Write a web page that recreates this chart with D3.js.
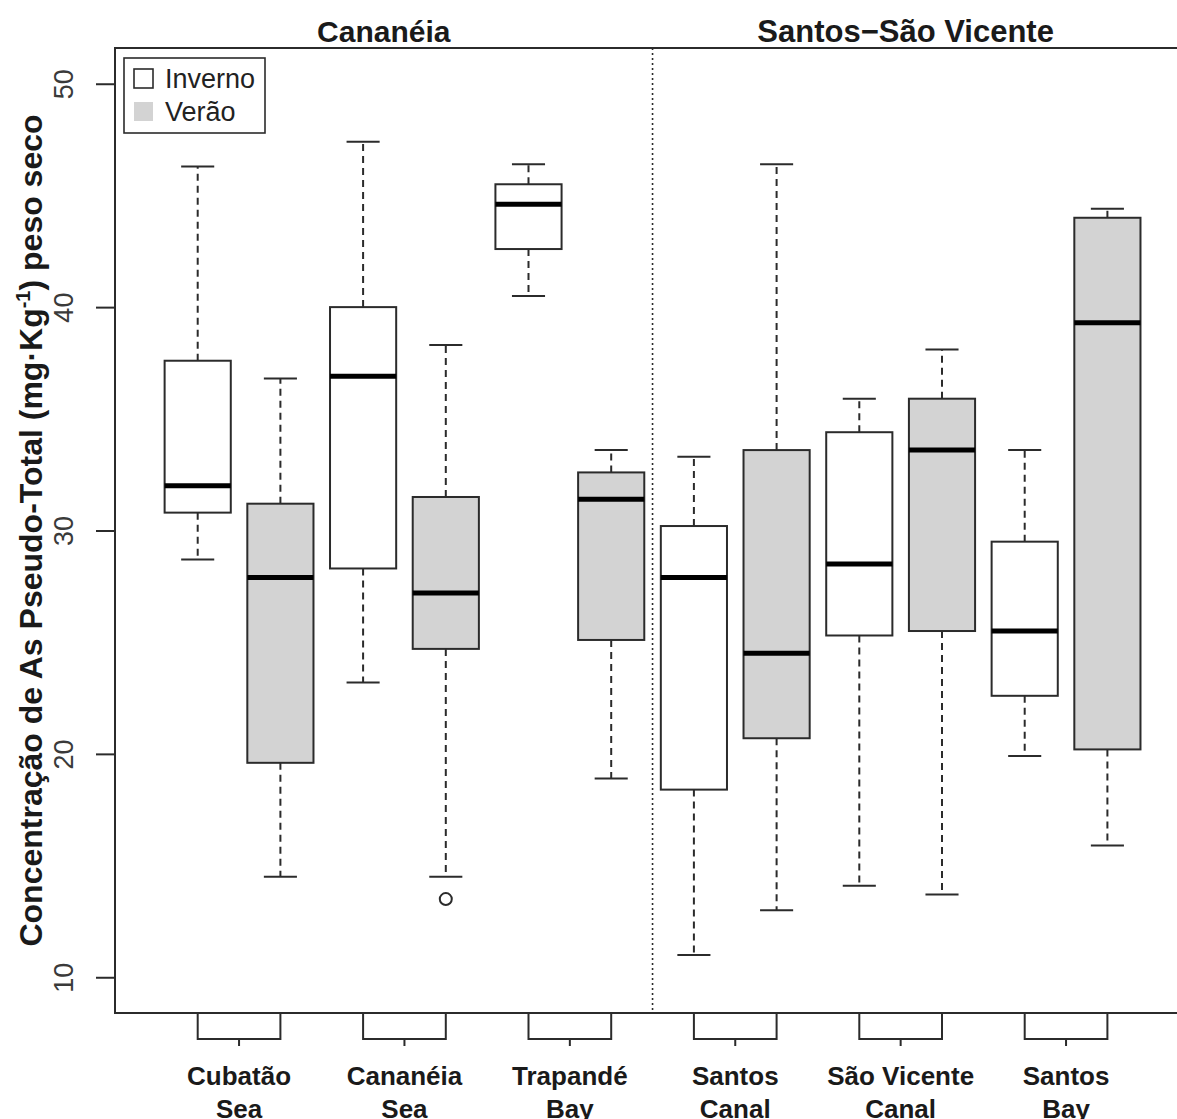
<!DOCTYPE html>
<html>
<head>
<meta charset="utf-8">
<script src="https://cdn.jsdelivr.net/npm/d3@7"></script>
<style>
  html, body { margin: 0; padding: 0; background: #fff; }
  svg { display: block; font-family: "Liberation Sans", Arial, sans-serif; }
</style>
</head>
<body>
<div id="chart"></div>
<script>
// Sites (two-line labels) and seasons
const siteLines = [
  ['Cubatão', 'Sea'],
  ['Cananéia', 'Sea'],
  ['Trapandé', 'Bay'],
  ['Santos', 'Canal'],
  ['São Vicente', 'Canal'],
  ['Santos', 'Bay']
];
const seasons = ['Inverno', 'Verão'];
const regions = ['Cananéia', 'Santos\u2212São Vicente'];
const regionCenters = [3.25, 9.56];
const yTicks = [10, 20, 30, 40, 50];

// Box stats, one per site x season (Inverno, Verão)
const lowerWhisker = [28.7, 14.5, 23.2, 14.5, 40.5, 18.9, 11.0, 13.0, 14.1, 13.7, 19.9, 15.9];
const q1 = [30.8, 19.6, 28.3, 24.7, 42.6, 25.1, 18.4, 20.7, 25.3, 25.5, 22.6, 20.2];
const median = [32.0, 27.9, 36.9, 27.2, 44.6, 31.4, 27.9, 24.5, 28.5, 33.6, 25.5, 39.3];
const q3 = [37.6, 31.2, 40.0, 31.5, 45.5, 32.6, 30.2, 33.6, 34.4, 35.9, 29.5, 44.0];
const upperWhisker = [46.3, 36.8, 47.4, 38.3, 46.4, 33.6, 33.3, 46.4, 35.9, 38.1, 33.6, 44.4];
const outliers = [[], [], [], [13.5], [], [], [], [], [], [], [], []];

const seasonFill = { 'Inverno': '#ffffff', 'Verão': '#d3d3d3' };

function renderChart() {
  const width = 1177, height = 1119;
  const plot = { left: 115, top: 48, bottom: 1013 };
  const ink = '#2b2b2b';

  const svg = d3.select('#chart').append('svg')
    .attr('width', width)
    .attr('height', height);

  svg.append('rect').attr('width', width).attr('height', height).attr('fill', '#fff');

  const x = d3.scaleLinear().domain([0, 13]).range([plot.left, plot.left + 13 * 82.7]);
  const y = d3.scaleLinear().domain([8.4, 51.6]).range([plot.bottom, plot.top]);

  const boxes = lowerWhisker.map((lw, i) => ({
    pos: i + 1,
    season: seasons[i % 2],
    lw, q1: q1[i], med: median[i], q3: q3[i], uw: upperWhisker[i],
    out: outliers[i]
  }));

  const half = x(0.4) - x(0);
  const staple = x(0.2) - x(0);

  const g = svg.append('g').selectAll('g.box')
    .data(boxes)
    .join('g')
    .attr('class', 'box');

  // whiskers
  g.append('line')
    .attr('x1', d => x(d.pos)).attr('x2', d => x(d.pos))
    .attr('y1', d => y(d.q3)).attr('y2', d => y(d.uw))
    .attr('stroke', ink).attr('stroke-width', 2).attr('stroke-dasharray', '7,5');
  g.append('line')
    .attr('x1', d => x(d.pos)).attr('x2', d => x(d.pos))
    .attr('y1', d => y(d.q1)).attr('y2', d => y(d.lw))
    .attr('stroke', ink).attr('stroke-width', 2).attr('stroke-dasharray', '7,5');
  // staples
  ['uw', 'lw'].forEach(k => {
    g.append('line')
      .attr('x1', d => x(d.pos) - staple).attr('x2', d => x(d.pos) + staple)
      .attr('y1', d => y(d[k])).attr('y2', d => y(d[k]))
      .attr('stroke', ink).attr('stroke-width', 2);
  });
  // box
  g.append('rect')
    .attr('x', d => x(d.pos) - half)
    .attr('width', half * 2)
    .attr('y', d => y(d.q3))
    .attr('height', d => y(d.q1) - y(d.q3))
    .attr('fill', d => seasonFill[d.season])
    .attr('stroke', ink).attr('stroke-width', 2);
  // median
  g.append('line')
    .attr('x1', d => x(d.pos) - half).attr('x2', d => x(d.pos) + half)
    .attr('y1', d => y(d.med)).attr('y2', d => y(d.med))
    .attr('stroke', '#000').attr('stroke-width', 5);
  // outliers
  g.selectAll('circle')
    .data(d => d.out.map(v => ({ pos: d.pos, v })))
    .join('circle')
    .attr('cx', d => x(d.pos)).attr('cy', d => y(d.v))
    .attr('r', 6).attr('fill', 'none')
    .attr('stroke', ink).attr('stroke-width', 2);

  // dotted divider between regions
  svg.append('line')
    .attr('x1', x(6.5)).attr('x2', x(6.5))
    .attr('y1', plot.top).attr('y2', plot.bottom)
    .attr('stroke', ink).attr('stroke-width', 1.6).attr('stroke-dasharray', '2,3');

  // frame
  svg.append('rect')
    .attr('x', x(0)).attr('y', plot.top)
    .attr('width', x(13) - x(0)).attr('height', plot.bottom - plot.top)
    .attr('fill', 'none').attr('stroke', ink).attr('stroke-width', 2);

  // y axis
  const yAxis = svg.append('g').attr('transform', `translate(${x(0)},0)`)
    .call(d3.axisLeft(y).tickValues(yTicks).tickSize(19).tickPadding(0).tickFormat(d3.format('d')));
  yAxis.select('.domain').remove();
  yAxis.selectAll('line').attr('stroke', ink).attr('stroke-width', 2);
  yAxis.selectAll('text')
    .attr('x', null)
    .attr('transform', 'translate(-52,0) rotate(-90)')
    .attr('dy', '0.36em')
    .attr('text-anchor', 'middle')
    .attr('font-size', 27)
    .attr('fill', '#3a3a3a');

  // x axis brackets (one per site, spanning its two boxes)
  const bx = svg.append('g');
  siteLines.forEach((lines, i) => {
    const a = x(2 * i + 1), b = x(2 * i + 2), m = (a + b) / 2;
    bx.append('path')
      .attr('d', `M${a},${plot.bottom}V${plot.bottom + 26}H${b}V${plot.bottom}M${m},${plot.bottom + 26}v7`)
      .attr('fill', 'none').attr('stroke', ink).attr('stroke-width', 2);
    const t = bx.append('text')
      .attr('x', m).attr('y', 1085)
      .attr('text-anchor', 'middle')
      .attr('font-size', 26).attr('font-weight', 'bold').attr('fill', '#1a1a1a');
    lines.forEach((s, j) => {
      t.append('tspan').attr('x', m).attr('dy', j === 0 ? 0 : 33).text(s);
    });
  });

  // region titles
  svg.append('g').selectAll('text')
    .data(regions)
    .join('text')
    .attr('x', (d, i) => x(regionCenters[i]))
    .attr('y', 42)
    .attr('text-anchor', 'middle')
    .attr('font-size', (d, i) => i === 0 ? 30 : 31)
    .attr('font-weight', 'bold').attr('fill', '#1a1a1a')
    .text(d => d);

  // y title
  const yt = svg.append('text')
    .attr('transform', `translate(42,${(plot.top + plot.bottom) / 2}) rotate(-90)`)
    .attr('text-anchor', 'middle')
    .attr('font-size', 32).attr('font-weight', 'bold').attr('fill', '#1a1a1a');
  yt.append('tspan').text('Concentração de As Pseudo-Total (mg·Kg');
  yt.append('tspan').attr('font-size', 20).attr('dy', -12).text('-1');
  yt.append('tspan').attr('dy', 12).text(') peso seco');

  // legend
  const lg = svg.append('g').attr('transform', 'translate(124,58)');
  lg.append('rect').attr('width', 141).attr('height', 75)
    .attr('fill', '#fff').attr('stroke', ink).attr('stroke-width', 1.6);
  seasons.forEach((s, i) => {
    lg.append('rect')
      .attr('x', 10).attr('y', 11 + i * 33)
      .attr('width', 19).attr('height', 19)
      .attr('fill', seasonFill[s])
      .attr('stroke', i === 0 ? ink : 'none').attr('stroke-width', 1.6);
    lg.append('text')
      .attr('x', 41).attr('y', 30 + i * 33)
      .attr('font-size', 27).attr('fill', '#222')
      .text(s);
  });
}

window.addEventListener('DOMContentLoaded', renderChart);
</script>
</body>
</html>
